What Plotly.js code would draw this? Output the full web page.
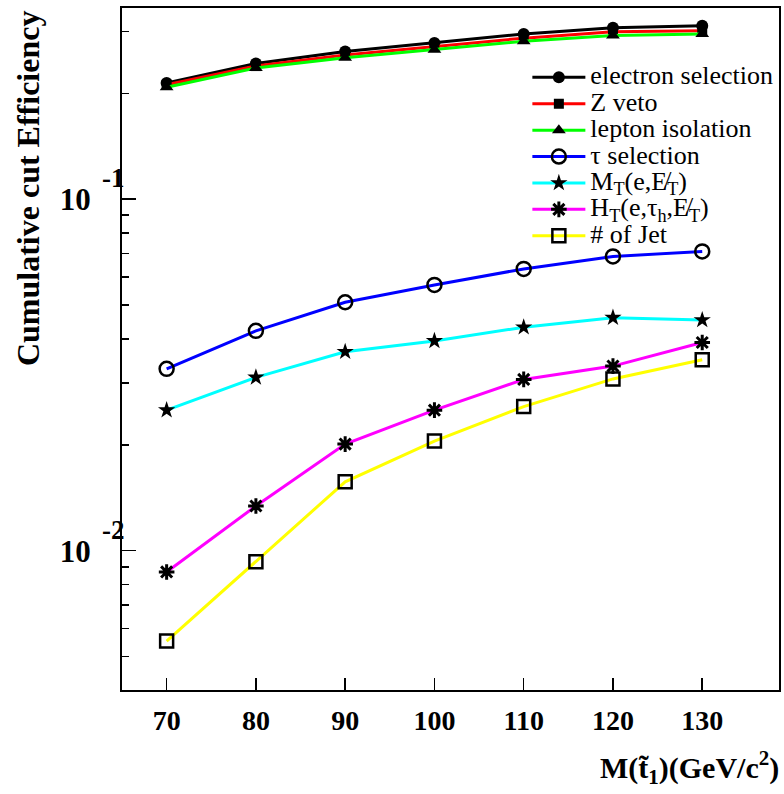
<!DOCTYPE html>
<html>
<head>
<meta charset="utf-8">
<script src="https://cdn.plot.ly/plotly-3.0.1.min.js"></script>
<style>
  html, body { margin: 0; padding: 0; background: #fff; }
  #chart { width: 784px; height: 794px; }
  /* ROOT-style Times typeface throughout the figure */
  #chart svg text, #chart svg tspan { font-family: 'Liberation Serif', 'Times New Roman', serif !important; }
</style>
</head>
<body>
<div id="chart"></div>
<script>
// Stop mass points (GeV/c^2)
const stopMass = [70, 80, 90, 100, 110, 120, 130];

// Cumulative cut efficiency after each selection step
const effElectron = [0.214, 0.243, 0.263, 0.278, 0.295, 0.307, 0.311];
const effZveto    = [0.2115, 0.239, 0.257, 0.271, 0.287, 0.299, 0.301];
const effLepIso   = [0.208, 0.236, 0.2525, 0.266, 0.281, 0.292, 0.295];
const effTau      = [0.0329, 0.0422, 0.0509, 0.0570, 0.0633, 0.0687, 0.0710];
const effMT       = [0.0251, 0.0311, 0.0368, 0.0395, 0.0432, 0.0460, 0.0453];
const effHT       = [0.00870, 0.0134, 0.0201, 0.0251, 0.0307, 0.0335, 0.0391];
const effNJet     = [0.00553, 0.00930, 0.0157, 0.0205, 0.0257, 0.0308, 0.0349];

// Legend labels
const labels = [
  'electron selection',
  'Z veto',
  'lepton isolation',
  '\u03c4 selection',
  'M<sub>T</sub>(e,E\u0338<sub>T</sub>)',
  'H<sub>T</sub>(e,\u03c4<sub>h</sub>,E\u0338<sub>T</sub>)',
  '# of Jet'
];

// Axis ticks
const xTicks = [70, 80, 90, 100, 110, 120, 130];
const yMajorTicks = [0.01, 0.1];
const yMajorExp = [-2, -1];
const yMinorTicks = [0.005, 0.006, 0.007, 0.008, 0.009,
                     0.02, 0.03, 0.04, 0.05, 0.06, 0.07, 0.08, 0.09,
                     0.2, 0.3];

const serif = 'Liberation Serif';
const legendSpan = t => '<span style="font-size:26px">' + t + '</span>';

function series(y, name, lineColor, symbol, msize, mline) {
  return {
    x: stopMass, y: y, name: legendSpan(name),
    type: 'scatter', mode: 'lines+markers',
    line: { color: lineColor, width: 3 },
    marker: { symbol: symbol, size: msize, color: '#000',
              line: { color: '#000', width: mline } }
  };
}

const traces = [
  series(effElectron, labels[0], '#000000', 'circle', 12, 0),
  series(effZveto,    labels[1], '#ff0000', 'square', 10, 0),
  series(effLepIso,   labels[2], '#00ff00', 'triangle-up', 12, 0),
  series(effTau,      labels[3], '#0000ff', 'circle-open', 14, 2.5),
  series(effMT,       labels[4], '#00ffff', 'star', 13, 0),
  series(effHT,       labels[5], '#ff00ff', 'asterisk-open', 13, 3),
  series(effNJet,     labels[6], '#ffff00', 'square-open', 13, 2.5)
];

// Superscript exponents next to the "10" tick labels
const expAnnotations = yMajorExp.map(e => ({
  xref: 'paper', yref: 'y', x: 0.007, y: e,
  xanchor: 'right', yanchor: 'middle', yshift: 21,
  text: '<b>' + String(e) + '</b>', showarrow: false,
  font: { family: serif, size: 27, color: '#000' }
}));

const layout = {
  width: 784, height: 794,
  margin: { l: 122, r: 5, t: 8, b: 104 },
  paper_bgcolor: '#fff', plot_bgcolor: '#fff',
  font: { family: serif, color: '#000' },
  showlegend: true,
  legend: {
    x: 0.617, y: 0.925, xanchor: 'left', yanchor: 'top',
    bgcolor: 'rgba(0,0,0,0)', borderwidth: 0,
    itemwidth: 53, tracegroupgap: 0,
    font: { family: serif, size: 18, color: '#000' }
  },
  xaxis: {
    type: 'linear', range: [65, 138.6],
    tickmode: 'array', tickvals: xTicks,
    ticktext: xTicks.map(v => '<b>' + v + '</b>'),
    ticks: 'inside', ticklen: 12, tickwidth: 1.5, tickcolor: '#000',
    showline: true, linecolor: '#000', linewidth: 2, mirror: true,
    showgrid: false, zeroline: false,
    ticklabelstandoff: 4,
    tickfont: { family: serif, size: 28, color: '#000' }
  },
  yaxis: {
    type: 'log', range: [Math.log10(0.004015), Math.log10(0.3496)],
    tickmode: 'array', tickvals: yMajorTicks,
    ticktext: yMajorTicks.map(() => '<b>10</b>'),
    ticks: 'inside', ticklen: 14, tickwidth: 1.5, tickcolor: '#000',
    minor: { tickmode: 'array', tickvals: yMinorTicks, ticks: 'inside',
             ticklen: 7, tickwidth: 1.5, tickcolor: '#000', showgrid: false },
    showline: true, linecolor: '#000', linewidth: 2, mirror: true,
    showgrid: false, zeroline: false,
    ticklabelstandoff: 23,
    tickfont: { family: serif, size: 31, color: '#000' }
  },
  annotations: [
    {
      xref: 'paper', yref: 'paper', x: -0.143, y: 1.0,
      xanchor: 'center', yanchor: 'top', textangle: -90,
      text: '<b>Cumulative cut Efficiency</b>', showarrow: false,
      font: { family: serif, size: 32, color: '#000' }
    },
    {
      xref: 'paper', yref: 'paper', x: 1.003, y: -0.114,
      xanchor: 'right', yanchor: 'middle',
      text: '<b>M(t\u0303<sub>1</sub>)(GeV/c<sup>2</sup>)</b>', showarrow: false,
      font: { family: serif, size: 30, color: '#000' }
    }
  ].concat(expAnnotations)
};

Plotly.newPlot('chart', traces, layout, { displayModeBar: false, staticPlot: true });
</script>
</body>
</html>
